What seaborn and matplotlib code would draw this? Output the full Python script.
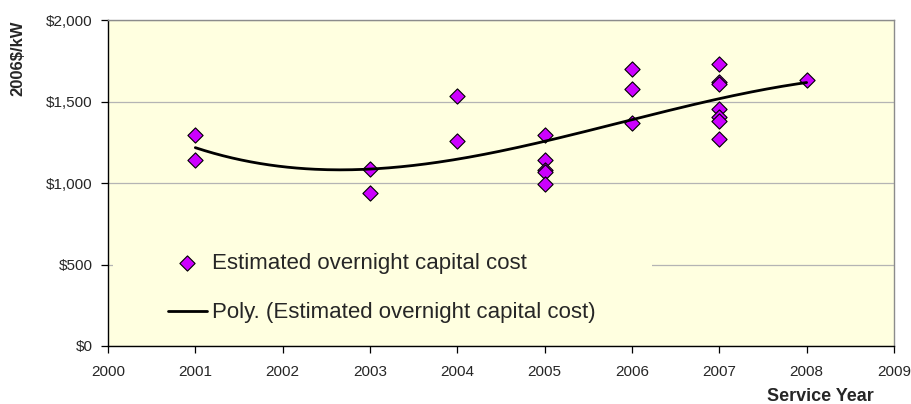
import matplotlib
matplotlib.use('Agg')
import matplotlib.pyplot as plt
from matplotlib.ticker import FuncFormatter
from matplotlib.patches import Rectangle
import numpy as np
import pandas as pd
import seaborn as sns

# Service year and estimated overnight capital cost (2006$/kW)
years = [2001, 2001,
         2003, 2003,
         2004, 2004,
         2005, 2005, 2005, 2005, 2005,
         2006, 2006, 2006,
         2007, 2007, 2007, 2007, 2007, 2007, 2007,
         2008]
costs = [1298, 1145,
         1085, 938,
         1537, 1261,
         1298, 1140, 1082, 1072, 995,
         1700, 1578, 1370,
         1732, 1625, 1612, 1454, 1410, 1385, 1272,
         1632]

series_label = 'Estimated overnight capital cost'
trend_label = 'Poly. (Estimated overnight capital cost)'
year_ticks = list(range(2000, 2010))
cost_ticks = [0, 500, 1000, 1500, 2000]

df = pd.DataFrame({'year': years, 'cost': costs})

# polynomial trendline fitted to the points
coef = np.polyfit(df['year'] - 2000, df['cost'], 3)
xs = np.linspace(2001, 2008, 200)
trend = pd.DataFrame({'year': xs, 'cost': np.polyval(coef, xs - 2000)})

sns.set_style('white')
plt.rcParams['font.family'] = ['Liberation Sans', 'DejaVu Sans']

bg = '#FFFFE0'
fig = plt.figure(figsize=(9.12, 4.04), dpi=100)
ax = fig.add_axes([0.1184, 0.1436, 0.8618, 0.8057])
ax.set_facecolor(bg)

ax.grid(axis='y', color='#B4B4B4', linewidth=0.9)
ax.set_axisbelow(True)

# the legend box (no border) hides part of the $500 gridline
ax.add_patch(Rectangle((0.006, 0.03), 0.686, 0.33, transform=ax.transAxes,
                       facecolor=bg, edgecolor='none', zorder=1.5))

sns.scatterplot(data=df, x='year', y='cost', ax=ax, marker='D', s=60,
                color='#CC00FF', edgecolor='black', linewidth=0.8,
                label=series_label, zorder=3)
sns.lineplot(data=trend, x='year', y='cost', ax=ax, color='black',
             linewidth=2, label=trend_label, zorder=4)

ax.set_xlim(2000, 2009)
ax.set_ylim(0, 2000)
ax.set_xticks(year_ticks)
ax.set_yticks(cost_ticks)
ax.yaxis.set_major_formatter(FuncFormatter(lambda v, p: '${:,.0f}'.format(v)))
ax.tick_params(axis='both', labelsize=11, length=5, width=0.9,
               direction='out', color='black', pad=6, bottom=True, left=True)
ax.tick_params(axis='x', pad=9)

for side in ['left', 'bottom']:
    ax.spines[side].set_color('black')
    ax.spines[side].set_linewidth(1.0)
for side in ['top', 'right']:
    ax.spines[side].set_color('#8C8C8C')
    ax.spines[side].set_linewidth(1.0)

ax.set_xlabel('Service Year', fontsize=13, fontweight='bold')
ax.xaxis.set_label_coords(0.907, -0.13)
ax.set_ylabel('2006$/kW', fontsize=12, fontweight='bold')
ax.yaxis.set_label_coords(-0.105, 0.885)

ax.legend(loc='center left', bbox_to_anchor=(0.0763, 0.178), fontsize=16,
          frameon=False, handlelength=1.75, handletextpad=0.25,
          labelspacing=1.3, borderpad=0, borderaxespad=0)

fig.savefig('out.png', dpi=100)
